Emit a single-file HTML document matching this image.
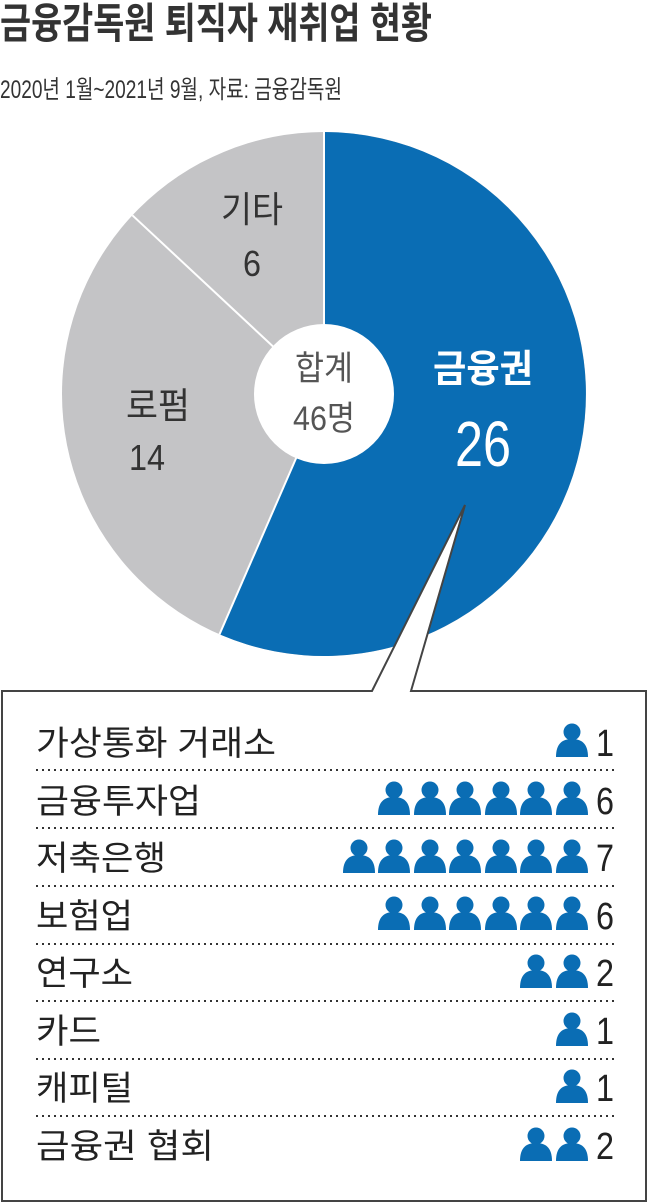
<!DOCTYPE html>
<html><head><meta charset="utf-8"><style>
html,body{margin:0;padding:0;background:#fff;width:648px;height:1203px;overflow:hidden}
svg text{font-family:"Liberation Sans","Noto Sans CJK KR",sans-serif}
</style></head><body>
<svg width="648" height="1203" viewBox="0 0 648 1203">
<defs>
<symbol id="p" viewBox="0 0 32 34">
<circle cx="16" cy="9" r="8.5" fill="#0a6db4"/>
<path d="M0 34 C0 20 7 16 16 16 C25 16 32 20 32 34 Z" fill="#0a6db4"/>
</symbol>
</defs>
<text x="0" y="38" font-size="42" font-weight="bold" fill="#333" textLength="432" lengthAdjust="spacingAndGlyphs">금융감독원 퇴직자 재취업 현황</text>
<text x="0" y="98" font-size="25" fill="#333" textLength="342" lengthAdjust="spacingAndGlyphs">2020년 1월~2021년 9월, 자료: 금융감독원</text>
<circle cx="324" cy="394" r="262" fill="#c4c4c6"/>
<path d="M324 394 L324 132 A262 262 0 1 1 219.5 634.3 Z" fill="#0a6db4"/>
<line x1="324" y1="394" x2="219.5" y2="634.3" stroke="#fff" stroke-width="2"/>
<line x1="324" y1="394" x2="132.4" y2="215.3" stroke="#fff" stroke-width="2"/>
<line x1="324" y1="394" x2="324" y2="132" stroke="#fff" stroke-width="2"/>
<circle cx="324" cy="394" r="70" fill="#fff"/>
<text x="324" y="380" font-size="34" fill="#555" text-anchor="middle" textLength="58" lengthAdjust="spacingAndGlyphs">합계</text>
<text x="324" y="430" font-size="34" fill="#555" text-anchor="middle" textLength="62" lengthAdjust="spacingAndGlyphs">46명</text>
<text x="252" y="222" font-size="36" fill="#333" text-anchor="middle" textLength="62" lengthAdjust="spacingAndGlyphs">기타</text>
<text x="252" y="276" font-size="36" fill="#333" text-anchor="middle" textLength="18" lengthAdjust="spacingAndGlyphs">6</text>
<text x="158" y="418" font-size="36" fill="#333" text-anchor="middle" textLength="64" lengthAdjust="spacingAndGlyphs">로펌</text>
<text x="147" y="470" font-size="36" fill="#333" text-anchor="middle" textLength="36" lengthAdjust="spacingAndGlyphs">14</text>
<text x="483" y="382" font-size="38" fill="#fff" text-anchor="middle" font-weight="bold" textLength="100" lengthAdjust="spacingAndGlyphs">금융권</text>
<text x="483" y="466" font-size="64" fill="#fff" text-anchor="middle" textLength="56" lengthAdjust="spacingAndGlyphs">26</text>
<path d="M2 1201 L2 691 L372 691 L465 505 L411 691 L646 691 L646 1201 Z" fill="#fff" stroke="#444" stroke-width="2"/>
<g fill="#222" font-size="34">
<text x="36" y="755" textLength="240" lengthAdjust="spacingAndGlyphs">가상통화 거래소</text>
<text x="36" y="813" textLength="165" lengthAdjust="spacingAndGlyphs">금융투자업</text>
<text x="36" y="870" textLength="130" lengthAdjust="spacingAndGlyphs">저축은행</text>
<text x="36" y="928" textLength="97" lengthAdjust="spacingAndGlyphs">보험업</text>
<text x="36" y="985" textLength="97" lengthAdjust="spacingAndGlyphs">연구소</text>
<text x="36" y="1043" textLength="65" lengthAdjust="spacingAndGlyphs">카드</text>
<text x="36" y="1100" textLength="97" lengthAdjust="spacingAndGlyphs">캐피털</text>
<text x="36" y="1158" textLength="178" lengthAdjust="spacingAndGlyphs">금융권 협회</text>
</g>
<g fill="#222" font-size="38" text-anchor="end">
<text x="614" y="756" textLength="18" lengthAdjust="spacingAndGlyphs">1</text><text x="614" y="814" textLength="18" lengthAdjust="spacingAndGlyphs">6</text><text x="614" y="871" textLength="18" lengthAdjust="spacingAndGlyphs">7</text><text x="614" y="929" textLength="18" lengthAdjust="spacingAndGlyphs">6</text>
<text x="614" y="986" textLength="18" lengthAdjust="spacingAndGlyphs">2</text><text x="614" y="1044" textLength="18" lengthAdjust="spacingAndGlyphs">1</text><text x="614" y="1101" textLength="18" lengthAdjust="spacingAndGlyphs">1</text><text x="614" y="1159" textLength="18" lengthAdjust="spacingAndGlyphs">2</text>
</g>
<g stroke="#333" stroke-width="2" stroke-dasharray="2 4">
<line x1="36" y1="770" x2="614" y2="770"/><line x1="36" y1="828" x2="614" y2="828"/>
<line x1="36" y1="886" x2="614" y2="886"/><line x1="36" y1="944" x2="614" y2="944"/>
<line x1="36" y1="1001" x2="614" y2="1001"/><line x1="36" y1="1059" x2="614" y2="1059"/>
<line x1="36" y1="1116" x2="614" y2="1116"/>
</g>
<use href="#p" x="556" y="723" width="32" height="34"/>
<g>
<use href="#p" x="556" y="781" width="32" height="34"/><use href="#p" x="520" y="781" width="32" height="34"/><use href="#p" x="485" y="781" width="32" height="34"/><use href="#p" x="449" y="781" width="32" height="34"/><use href="#p" x="414" y="781" width="32" height="34"/><use href="#p" x="378" y="781" width="32" height="34"/>
</g>
<g>
<use href="#p" x="556" y="839" width="32" height="34"/><use href="#p" x="520" y="839" width="32" height="34"/><use href="#p" x="485" y="839" width="32" height="34"/><use href="#p" x="449" y="839" width="32" height="34"/><use href="#p" x="414" y="839" width="32" height="34"/><use href="#p" x="378" y="839" width="32" height="34"/><use href="#p" x="343" y="839" width="32" height="34"/>
</g>
<g>
<use href="#p" x="556" y="896" width="32" height="34"/><use href="#p" x="520" y="896" width="32" height="34"/><use href="#p" x="485" y="896" width="32" height="34"/><use href="#p" x="449" y="896" width="32" height="34"/><use href="#p" x="414" y="896" width="32" height="34"/><use href="#p" x="378" y="896" width="32" height="34"/>
</g>
<use href="#p" x="556" y="954" width="32" height="34"/><use href="#p" x="520" y="954" width="32" height="34"/>
<use href="#p" x="556" y="1012" width="32" height="34"/>
<use href="#p" x="556" y="1069" width="32" height="34"/>
<use href="#p" x="556" y="1127" width="32" height="34"/><use href="#p" x="520" y="1127" width="32" height="34"/>
</svg>
</body></html>
